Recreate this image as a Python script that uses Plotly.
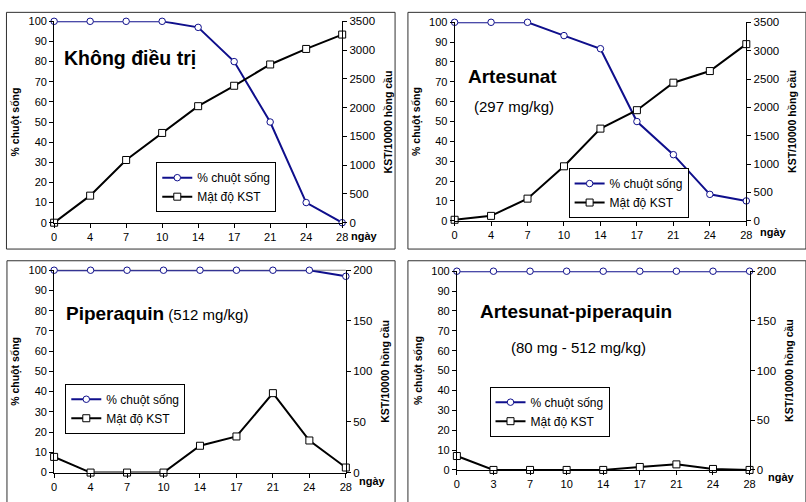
import plotly.graph_objects as go

W, H = 806, 502

# ---------------- data ----------------
days_a = ["0", "4", "7", "10", "14", "17", "21", "24", "28"]
days_d = ["0", "3", "7", "10", "14", "17", "21", "24", "28"]

surv_untreated = [100, 100, 100, 100, 97, 80, 50, 10, 0]
kst_untreated = [0, 470, 1090, 1560, 2025, 2380, 2750, 3020, 3270]

surv_artesunat = [100, 100, 100, 93.3, 86.7, 50, 33.3, 13.3, 10]
kst_artesunat = [17, 86, 390, 960, 1625, 1950, 2435, 2640, 3115]

surv_piper = [100, 100, 100, 100, 100, 100, 100, 100, 97]
kst_piper = [15.5, 0, 0, 0, 26.5, 35.7, 78.5, 31.7, 5]

surv_combo = [100, 100, 100, 100, 100, 100, 100, 100, 100]
kst_combo = [14, 0, 0, 0, 0, 3, 5.6, 1, 0]

right_max = [3500, 3500, 200, 200]
right_dtick = [500, 500, 50, 50]

name_surv = "% chuột sống"
name_kst = "Mật độ KST"
left_title = "% chuột sống"
right_title = "KST/10000 hồng cầu"
x_unit = "ngày"

BLUE = "#0f0f8c"
FONT = "Liberation Sans, Arial, sans-serif"

# ---------------- layout geometry (pixels) ----------------
# plot area: left, right, top, bottom
boxes = [
    (51.7, 343.0, 15.7, 222.0),
    (456.7, 751.7, 16.7, 220.0),
    (51.7, 346.7, 270.7, 478.0),
    (459.0, 755.0, 271.7, 475.3),
]
frames = [
    (3.5, 396.5, 6.5, 249.0),
    (409.5, 812, 6.5, 249.0),
    (4.0, 396.5, 261.0, 512),
    (409.5, 812, 261.0, 512),
]
legend_pos = [(155, 160), (572, 166), (63, 387), (492, 390)]
ngay_pos = [(366, 236), (779, 232), (374, 487), (787, 483)]
right_standoff = [10, 10, 10, 10]

panels = [
    (days_a, surv_untreated, kst_untreated),
    (days_a, surv_artesunat, kst_artesunat),
    (days_a, surv_piper, kst_piper),
    (days_d, surv_combo, kst_combo),
]


def px(x):
    return x / W


def py(y):
    return 1 - y / H


def ref(prefix, n):
    return prefix if n == 1 else f"{prefix}{n}"


def key(prefix, n):
    return f"{prefix}axis" if n == 1 else f"{prefix}axis{n}"


fig = go.Figure()
layout = dict(
    width=W, height=H, margin=dict(l=0, r=0, t=0, b=0),
    paper_bgcolor="white", plot_bgcolor="rgba(0,0,0,0)",
    font=dict(family=FONT, color="black", size=11),
    showlegend=True, shapes=[], annotations=[],
)

for i, (days, surv, kst) in enumerate(panels):
    xn = i + 1
    yl = 2 * i + 1
    yr = 2 * i + 2
    l, r, t, b = boxes[i]
    leg = "legend" if i == 0 else f"legend{i + 1}"

    fig.add_trace(go.Scatter(
        x=days, y=surv, name=name_surv, mode="lines+markers",
        xaxis=ref("x", xn), yaxis=ref("y", yl), legend=leg,
        line=dict(color=BLUE, width=2),
        marker=dict(symbol="circle", size=6.5, color="white", line=dict(color=BLUE, width=1)),
        cliponaxis=False,
    ))
    fig.add_trace(go.Scatter(
        x=days, y=kst, name=name_kst, mode="lines+markers",
        xaxis=ref("x", xn), yaxis=ref("y", yr), legend=leg,
        line=dict(color="black", width=2),
        marker=dict(symbol="square", size=7, color="white", line=dict(color="black", width=1)),
        cliponaxis=False,
    ))

    layout[key("x", xn)] = dict(
        domain=[px(l), px(r)], anchor=ref("y", yl), type="category",
        categoryorder="array", categoryarray=days, range=[0, 8],
        showline=True, linecolor="black", linewidth=1,
        ticks="outside", ticklen=4, tickcolor="black",
        showgrid=False, zeroline=False, tickfont=dict(size=11),
    )
    layout[key("y", yl)] = dict(
        domain=[py(b), py(t)], anchor=ref("x", xn), range=[0, 100], dtick=10,
        showline=True, linecolor="black", linewidth=1,
        ticks="outside", ticklen=4, tickcolor="black",
        showgrid=False, zeroline=False, tickfont=dict(size=11),
        title=dict(text=left_title, font=dict(size=10.5, weight="bold"), standoff=6),
    )
    layout[key("y", yr)] = dict(
        overlaying=ref("y", yl), side="right", anchor=ref("x", xn),
        range=[0, right_max[i]], dtick=right_dtick[i],
        showline=True, linecolor="black", linewidth=1,
        ticks="outside", ticklen=4, tickcolor="black",
        showgrid=False, zeroline=False, tickfont=dict(size=11.5),
        title=dict(text=right_title, font=dict(size=10.5, weight="bold"),
                   standoff=right_standoff[i]),
    )
    lx, ly = legend_pos[i]
    layout[leg] = dict(
        x=px(lx), y=py(ly), xanchor="left", yanchor="top",
        bgcolor="white", bordercolor="black", borderwidth=1,
        font=dict(size=12), tracegroupgap=0, itemwidth=30,
    )
    fl, fr, ft, fb = frames[i]
    layout["shapes"].append(dict(
        type="rect", xref="paper", yref="paper",
        x0=px(fl), x1=px(fr), y0=py(fb), y1=py(ft),
        line=dict(color="#303030", width=1), layer="below",
    ))
    nx, ny = ngay_pos[i]
    layout["annotations"].append(dict(
        text=f"<b>{x_unit}</b>", xref="paper", yref="paper",
        x=px(nx), y=py(ny), xanchor="center", yanchor="middle",
        showarrow=False, font=dict(size=11),
    ))

# plot-area top border visible in the Piperaquin panel
l, r, t, b = boxes[2]
layout["shapes"].append(dict(
    type="line", xref="paper", yref="paper",
    x0=px(l), x1=px(r), y0=py(t), y1=py(t),
    line=dict(color="#808080", width=1), layer="below",
))

titles = [
    ("<b>Không điều trị</b>", 60, 53, 19.5),
    ("<b>Artesunat</b>", 468, 72, 19),
    ("(297 mg/kg)", 474, 103, 15),
    ("<b>Piperaquin</b><span style='font-size:15px'> (512 mg/kg)</span>", 62, 315, 19),
    ("<b>Artesunat-piperaquin</b>", 480, 313, 19),
    ("(80 mg - 512 mg/kg)", 512, 350, 15),
]
for text, tx, ty, sz in titles:
    layout["annotations"].append(dict(
        text=text, xref="paper", yref="paper", x=px(tx), y=py(ty),
        xanchor="left", yanchor="middle", showarrow=False,
        font=dict(size=sz),
    ))

fig.update_layout(**layout)
fig.write_html(
    "out.html",
    config={"displayModeBar": False},
    post_script="document.body.style.margin='0';document.body.style.overflow='hidden';",
)
